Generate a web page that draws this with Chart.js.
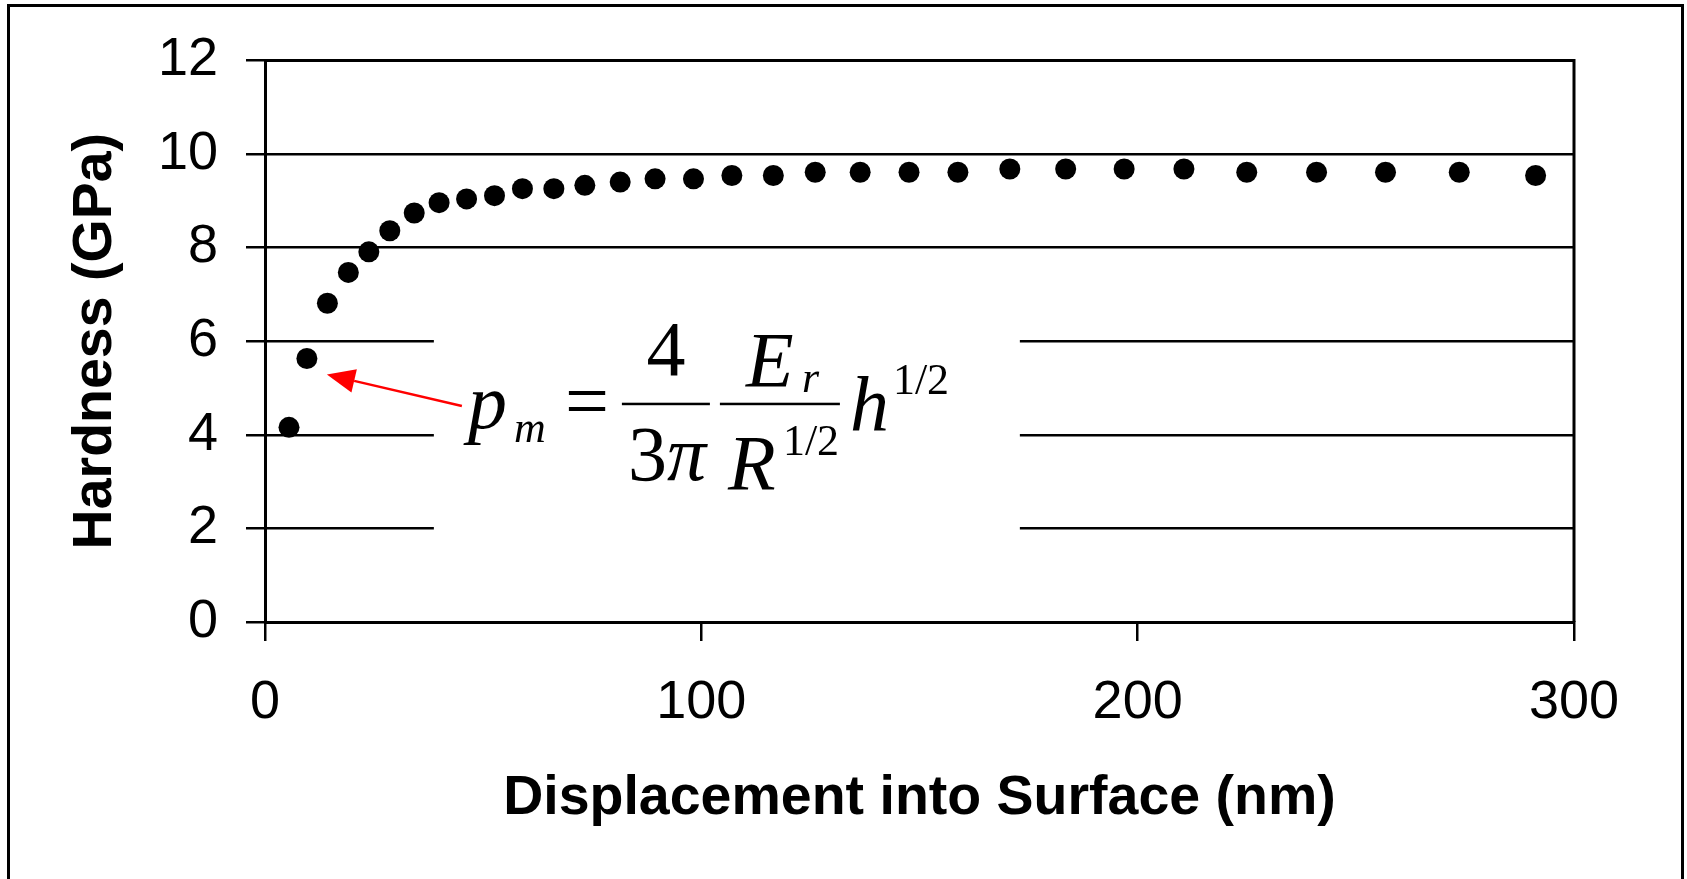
<!DOCTYPE html>
<html>
<head>
<meta charset="utf-8">
<script src="https://cdn.jsdelivr.net/npm/chart.js@4.4.1/dist/chart.umd.min.js"></script>
<style>
  html, body { margin: 0; padding: 0; background: #fff; }
  canvas { display: block; }
</style>
</head>
<body>
<canvas id="grafico" width="1687" height="879"></canvas>
<script>
// valores (deslocamento em nm, dureza em GPa)
const deslocamento = [5.5, 9.6, 14.3, 19.1, 23.8, 28.6, 34.2, 39.9, 46.2, 52.6, 59.0, 66.2, 73.3, 81.4, 89.4, 98.2,
  107.0, 116.5, 126.1, 136.4, 147.6, 158.8, 170.7, 183.5, 196.9, 210.6, 225.0, 241.0, 256.8, 273.7, 291.2];
const dureza = [4.16, 5.63, 6.81, 7.47, 7.91, 8.36, 8.74, 8.96, 9.04, 9.11, 9.26, 9.26, 9.33, 9.40, 9.47, 9.47,
  9.54, 9.54, 9.61, 9.61, 9.61, 9.61, 9.68, 9.68, 9.68, 9.68, 9.61, 9.61, 9.61, 9.61, 9.54];
const ticksX = [0, 100, 200, 300];
const ticksY = [0, 2, 4, 6, 8, 10, 12];

// onde fica a equação (em unidades do gráfico)
const ancoraEq = { x: 46.5, y: 4.66 };
const caixaEq = { xMin: 38.7, xMax: 173, yMin: 1, yMax: 7 };

Chart.defaults.font.family = "'Liberation Sans', Arial, sans-serif";
Chart.defaults.color = '#000';

const SERIF = "'Liberation Serif', 'Times New Roman', serif";

function texto(ctx, s, x, y, tam, italico, alinhar) {
  ctx.font = (italico ? 'italic ' : '') + tam + 'px ' + SERIF;
  ctx.textAlign = alinhar || 'left';
  ctx.textBaseline = 'alphabetic';
  ctx.fillText(s, x, y);
}

// equação + seta vermelha
const equacao = {
  id: 'equacao',
  beforeDatasetsDraw(chart) {
    const { ctx, scales: { x, y } } = chart;
    const bx0 = x.getPixelForValue(caixaEq.xMin);
    const bx1 = x.getPixelForValue(caixaEq.xMax);
    const by0 = y.getPixelForValue(caixaEq.yMax);
    const by1 = y.getPixelForValue(caixaEq.yMin);
    ctx.save();
    ctx.fillStyle = '#fff';
    ctx.fillRect(bx0, by0, bx1 - bx0, by1 - by0);

    const ax = x.getPixelForValue(ancoraEq.x);
    const ay = y.getPixelForValue(ancoraEq.y); // linha da fração
    const F = 78, S = 44;
    ctx.fillStyle = '#000';
    texto(ctx, 'p', ax, ay + 24, F, true);
    texto(ctx, 'm', ax + 46, ay + 38, S, true);
    texto(ctx, '=', ax + 97, ay + 23, F, false);
    // primeira fração
    ctx.fillRect(ax + 154, ay - 1.2, 88, 2.5);
    texto(ctx, '4', ax + 198, ay - 29, F, false, 'center');
    texto(ctx, '3', ax + 160, ay + 76, F, false);
    texto(ctx, '\u03c0', ax + 199, ay + 76, F, true);
    // segunda fração
    ctx.fillRect(ax + 252, ay - 1.2, 120, 2.5);
    texto(ctx, 'E', ax + 278, ay - 18, F, true);
    texto(ctx, 'r', ax + 334, ay - 12, S, true);
    texto(ctx, 'R', ax + 260, ay + 85, F, true);
    texto(ctx, '1/2', ax + 315, ay + 51, S, false);
    // h^(1/2)
    texto(ctx, 'h', ax + 382, ay + 27, F, true);
    texto(ctx, '1/2', ax + 425, ay - 10, S, false);

    // seta apontando para o segundo ponto
    const pt = chart.getDatasetMeta(0).data[1];
    const tx = pt.x + 20, ty = pt.y + 16;
    const sx = ax - 6, sy = ay + 2;
    const ang = Math.atan2(ty - sy, tx - sx);
    const comp = 28, meia = 12;
    const baseX = tx - comp * Math.cos(ang), baseY = ty - comp * Math.sin(ang);
    ctx.strokeStyle = '#ff0000';
    ctx.fillStyle = '#ff0000';
    ctx.lineWidth = 2.5;
    ctx.beginPath();
    ctx.moveTo(sx, sy);
    ctx.lineTo(baseX, baseY);
    ctx.stroke();
    ctx.beginPath();
    ctx.moveTo(tx, ty);
    ctx.lineTo(baseX + meia * Math.sin(ang), baseY - meia * Math.cos(ang));
    ctx.lineTo(baseX - meia * Math.sin(ang), baseY + meia * Math.cos(ang));
    ctx.closePath();
    ctx.fill();
    ctx.restore();
  }
};

// caixa da área do gráfico e moldura externa
const moldura = {
  id: 'moldura',
  afterDraw(chart) {
    const { ctx, chartArea: a } = chart;
    ctx.save();
    ctx.strokeStyle = '#000';
    ctx.lineWidth = 3;
    ctx.beginPath();
    ctx.moveTo(a.left, a.top);
    ctx.lineTo(a.right, a.top);
    ctx.lineTo(a.right, a.bottom);
    ctx.stroke();
    ctx.strokeRect(8.5, 5.5, 1674, 880);
    ctx.restore();
  }
};

const ctx = document.getElementById('grafico').getContext('2d');
new Chart(ctx, {
  type: 'scatter',
  data: {
    datasets: [{
      data: deslocamento.map((d, i) => ({ x: d, y: dureza[i] })),
      backgroundColor: '#000',
      borderColor: '#000',
      borderWidth: 0,
      pointRadius: 10.5,
      pointHoverRadius: 10.5
    }]
  },
  options: {
    responsive: false,
    animation: false,
    layout: { padding: { top: 58, right: 113, left: 0, bottom: 0 } },
    plugins: { legend: { display: false }, tooltip: { enabled: false } },
    scales: {
      x: {
        type: 'linear',
        min: 0,
        max: 300,
        afterBuildTicks: s => { s.ticks = ticksX.map(v => ({ value: v })); },
        afterFit: s => { s.height = 257; },
        ticks: { font: { size: 54 }, color: '#000', padding: 30, maxRotation: 0 },
        grid: { drawOnChartArea: false, drawTicks: true, tickLength: 19, color: '#000', lineWidth: 2.5 },
        border: { color: '#000', width: 3 },
        title: {
          display: true,
          text: 'Displacement into Surface (nm)',
          font: { size: 55.5, weight: 'bold' },
          color: '#000',
          padding: { top: 0, bottom: 47 }
        }
      },
      y: {
        min: 0,
        max: 12,
        afterBuildTicks: s => { s.ticks = ticksY.map(v => ({ value: v })); },
        afterFit: s => { s.width = 265; },
        ticks: { font: { size: 54 }, color: '#000', padding: 28 },
        grid: { drawOnChartArea: true, drawTicks: true, tickLength: 19, color: '#000', lineWidth: 2.5 },
        border: { color: '#000', width: 3 },
        title: {
          display: true,
          text: 'Hardness (GPa)',
          font: { size: 55.5, weight: 'bold' },
          color: '#000',
          padding: { top: 62, bottom: 0 }
        }
      }
    }
  },
  plugins: [equacao, moldura]
});
</script>
</body>
</html>
